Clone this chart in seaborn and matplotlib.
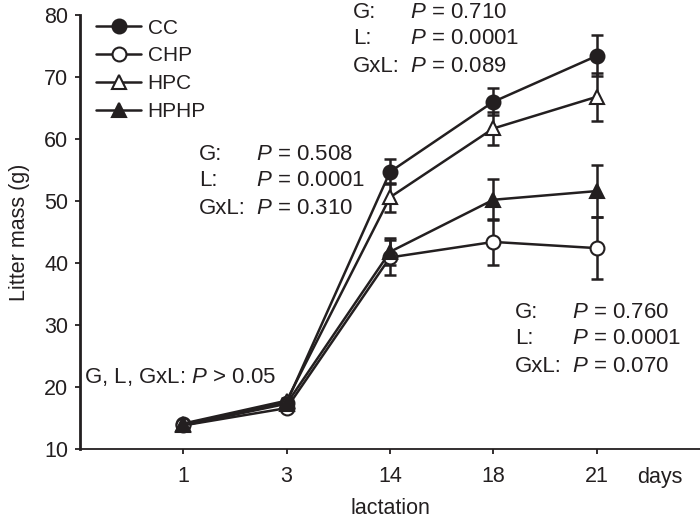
import seaborn as sns
import pandas as pd
import matplotlib
matplotlib.use("Agg")
import matplotlib.pyplot as plt
from matplotlib.lines import Line2D

# data
days = ["1", "3", "14", "18", "21"]
cc = [14.0, 17.5, 54.7, 66.0, 73.4]
cc_err = [0.4, 0.5, 2.0, 2.2, 3.3]
chp = [13.8, 16.6, 40.9, 43.4, 42.4]
chp_err = [0.4, 0.5, 2.8, 3.7, 5.0]
hpc = [14.1, 17.8, 50.6, 61.7, 66.8]
hpc_err = [0.4, 0.5, 2.3, 2.6, 3.9]
hphp = [13.8, 17.3, 41.8, 50.2, 51.6]
hphp_err = [0.4, 0.5, 2.2, 3.3, 4.2]

groups = ["CC", "CHP", "HPC", "HPHP"]
values = {"CC": cc, "CHP": chp, "HPC": hpc, "HPHP": hphp}
errors = {"CC": cc_err, "CHP": chp_err, "HPC": hpc_err, "HPHP": hphp_err}

rows = []
for g in groups:
    for i, d in enumerate(days):
        rows.append({"group": g, "pos": i, "day": d, "mass": values[g][i], "err": errors[g][i]})
df = pd.DataFrame(rows)

sns.set_style("ticks")
plt.rcParams["font.family"] = ["Liberation Sans", "DejaVu Sans"]
plt.rcParams["mathtext.fontset"] = "custom"
plt.rcParams["mathtext.rm"] = "Liberation Sans"
plt.rcParams["mathtext.it"] = "Liberation Sans:italic"

ink = "#231f20"
fs = 15.5
fs_note = 16

fig = plt.figure(figsize=(7, 5.2), dpi=100)
ax = fig.add_axes([80 / 700, 71 / 520, 620 / 700, 434 / 520])

style = {
    "CC": dict(marker="o", mfc=ink),
    "CHP": dict(marker="o", mfc="white"),
    "HPC": dict(marker="^", mfc="white"),
    "HPHP": dict(marker="^", mfc=ink),
}

# error bars first, lines and markers on top
for g in groups:
    sub = df[df.group == g]
    ax.errorbar(sub["pos"], sub["mass"], yerr=sub["err"], fmt="none",
                ecolor=ink, elinewidth=1.8, capsize=4.5, capthick=1.8, zorder=2)

for g in groups:
    sub = df[df.group == g]
    sns.lineplot(data=sub, x="pos", y="mass", ax=ax, color=ink, linewidth=1.8,
                 marker=style[g]["marker"], markersize=10,
                 markerfacecolor=style[g]["mfc"], markeredgecolor=ink,
                 markeredgewidth=1.5, zorder=3, legend=False)

ax.set_xlim(-1, 5)
ax.set_ylim(10, 80)
ax.set_xticks(range(len(days)))
ax.set_xticklabels(days)
ax.set_yticks(range(10, 81, 10))
ax.tick_params(axis="both", labelsize=fs, colors=ink, length=3.5, width=1.3)
ax.tick_params(axis="x", pad=9)
ax.tick_params(axis="y", pad=5)
ax.set_xlabel("lactation", fontsize=fs, color=ink, labelpad=8)
ax.set_ylabel("Litter mass (g)", fontsize=fs, color=ink, labelpad=10)
sns.despine(ax=ax)
ax.spines["left"].set_linewidth(2.0)
ax.spines["bottom"].set_linewidth(1.3)
ax.spines["left"].set_color(ink)
ax.spines["bottom"].set_color(ink)

fig.text(660 / 700, 1 - 477 / 520, "days", fontsize=fs, color=ink, ha="center", va="center")

handles = [Line2D([], [], color=ink, linewidth=1.8, marker=style[g]["marker"], markersize=10,
                  markerfacecolor=style[g]["mfc"], markeredgecolor=ink, markeredgewidth=1.5)
           for g in groups]
leg = ax.legend(handles, groups, loc="upper left", bbox_to_anchor=(-0.005, 1.035), frameon=False,
                fontsize=15, handlelength=2.2, handletextpad=0.3, labelspacing=0.42)
for t in leg.get_texts():
    t.set_color(ink)

# statistics annotations (pixel layout)
def stat_block(left, top, gp, lp, gxlp):
    for k, (lab, p) in enumerate([("G:", gp), ("L:", lp), ("GxL:", gxlp)]):
        y = 1 - (top + 27 * k) / 520
        fig.text(left / 700, y, lab, fontsize=fs_note, color=ink, va="center")
        fig.text((left + 57) / 700, y, "$P$ = " + p, fontsize=fs_note, color=ink, va="center")

stat_block(353, 12, "0.710", "0.0001", "0.089")
stat_block(199, 154, "0.508", "0.0001", "0.310")
stat_block(515, 312, "0.760", "0.0001", "0.070")
fig.text(84 / 700, 1 - 377 / 520, "G, L, GxL: $P$ > 0.05", fontsize=fs_note, color=ink, va="center")

fig.savefig("out.png", dpi=100)
